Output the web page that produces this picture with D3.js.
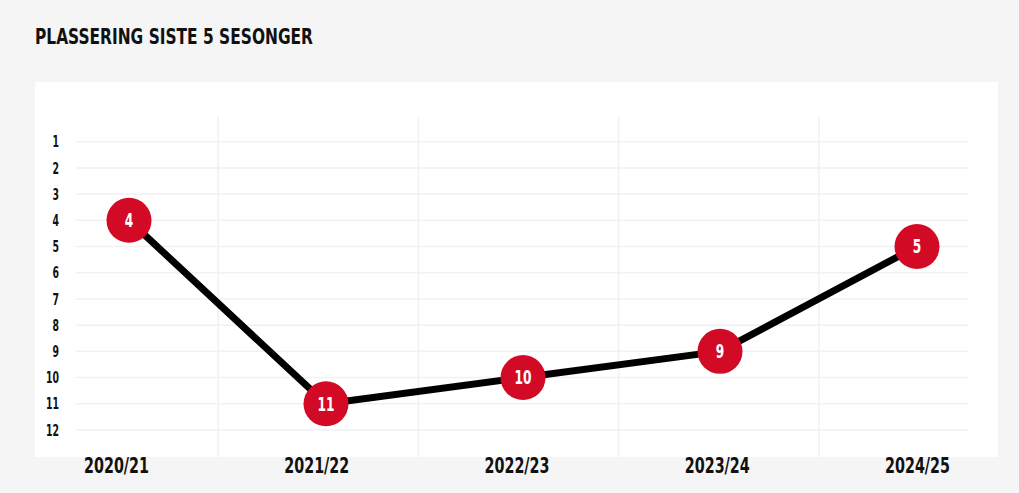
<!DOCTYPE html>
<html><head><meta charset="utf-8">
<script src="https://cdn.jsdelivr.net/npm/d3@7/dist/d3.min.js"></script>
<style>
html,body{margin:0;padding:0;background:#f5f5f5;}
svg{display:block;}
text{font-family:'Liberation Sans Narrow','DejaVu Sans Condensed','Roboto',sans-serif;font-weight:bold;}
</style></head>
<body>
<svg id="chart" width="1019" height="493"></svg>
<script>
const title = "PLASSERING SISTE 5 SESONGER";
const seasons = ["2020/21","2021/22","2022/23","2023/24","2024/25"];
const placements = [4, 11, 10, 9, 5];
const yTicks = [1,2,3,4,5,6,7,8,9,10,11,12];

const W = 1019, H = 493;
const FONT = "'Liberation Sans Narrow','DejaVu Sans Condensed',sans-serif";
const svg = d3.select("#chart");
svg.append("rect").attr("width",W).attr("height",H).attr("fill","#f5f5f5");
svg.append("rect").attr("x",35).attr("y",82).attr("width",963).attr("height",375).attr("fill","#ffffff");

svg.append("text").attr("x",35).attr("y",43.5).attr("font-size",22).attr("fill","#111")
  .attr("textLength",278).attr("lengthAdjust","spacingAndGlyphs").text(title);

const xLab = d3.scalePoint().domain(seasons).range([116, 917]);
const xPt = d3.scalePoint().domain(seasons).range([129, 917]);
const y = d3.scaleLinear().domain([1, 12]).range([141.7, 430]);

// horizontal grid
svg.append("g").selectAll("line").data(yTicks).join("line")
  .attr("x1",76).attr("x2",968).attr("y1",d=>y(d)).attr("y2",d=>y(d))
  .attr("stroke","#f1f1f1").attr("stroke-width",1.5);
// vertical grid between categories
const step = xLab.step();
svg.append("g").selectAll("line").data(seasons.slice(1)).join("line")
  .attr("x1",d=>xLab(d)-step/2+2).attr("x2",d=>xLab(d)-step/2+2).attr("y1",117).attr("y2",457)
  .attr("stroke","#f1f1f1").attr("stroke-width",1.5);

// y axis labels
const yAxis = d3.axisLeft(y).tickValues(yTicks).tickSize(0).tickPadding(0);
const gy = svg.append("g").attr("transform","translate(59,0)").call(yAxis);
gy.select(".domain").remove();
gy.selectAll("text").attr("font-size",16).attr("fill","#111")
  .attr("textLength",d=>String(d).length*6.5).attr("lengthAdjust","spacingAndGlyphs")
  .style("font-family",FONT).style("font-weight","bold");

// x axis labels
const xAxis = d3.axisBottom(xLab).tickSize(0).tickPadding(0);
const gx = svg.append("g").attr("transform","translate(0,459)").call(xAxis);
gx.select(".domain").remove();
gx.selectAll("text").attr("font-size",21).attr("fill","#111").attr("dy","0.68em")
  .attr("textLength",65).attr("lengthAdjust","spacingAndGlyphs")
  .style("font-family",FONT).style("font-weight","bold");

// line
const line = d3.line().x((d,i)=>xPt(seasons[i])).y(d=>y(d));
svg.append("path").datum(placements).attr("d",line).attr("fill","none")
  .attr("stroke","#000").attr("stroke-width",7).attr("stroke-linejoin","round");

// markers
const g = svg.append("g").selectAll("g").data(placements).join("g")
  .attr("transform",(d,i)=>`translate(${xPt(seasons[i])},${y(d)})`);
g.append("circle").attr("r",22.5).attr("fill","#d30a25");
g.append("text").attr("text-anchor","middle").attr("dy","0.36em").attr("font-size",19)
  .attr("fill","#fff")
  .attr("textLength",d=>String(d).length*8.5).attr("lengthAdjust","spacingAndGlyphs")
  .text(d=>d);
</script>
</body></html>
